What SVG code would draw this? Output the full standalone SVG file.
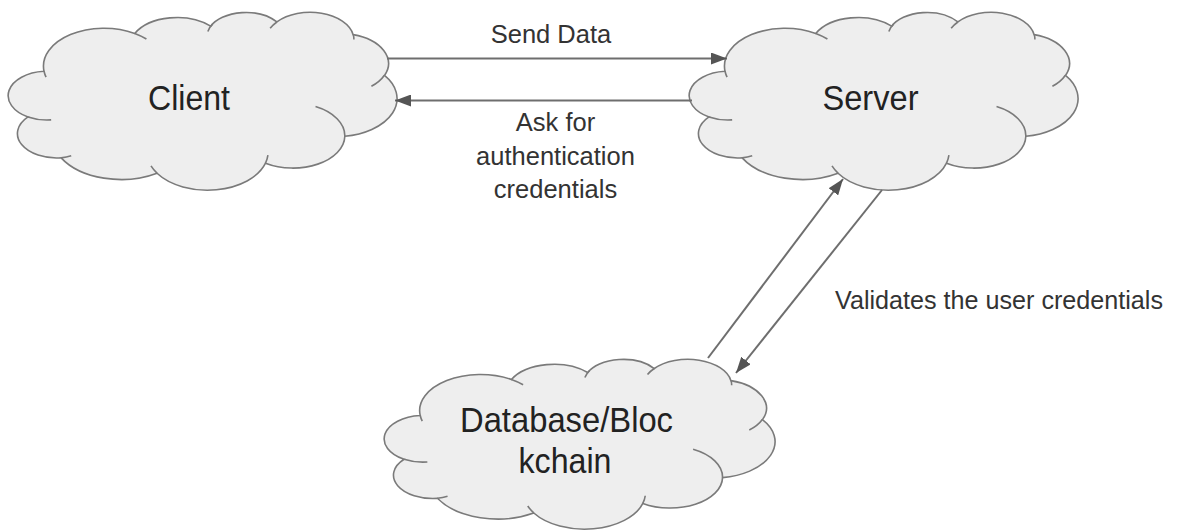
<svg xmlns="http://www.w3.org/2000/svg" xmlns:xlink="http://www.w3.org/1999/xlink" width="1178" height="531" viewBox="0 0 1178 531">
<style>
.cloud{fill:#eeeeee;stroke:#7a7a7a;stroke-width:1.6;vector-effect:non-scaling-stroke}
.tails{fill:none;stroke:#7a7a7a;stroke-width:1.6;vector-effect:non-scaling-stroke}
.big{font-family:"Liberation Sans",Arial,sans-serif;font-size:35px;fill:#222;text-anchor:middle}
.lbl{font-family:"Liberation Sans",Arial,sans-serif;font-size:25.5px;fill:#333}
.conn{stroke:#6e6e6e;stroke-width:2;fill:none}
</style>
<defs>
<path id="cloudShape" class="cloud" d="M3900 14370 A6753 9190 0 0 1 14003 5197 A5333 7267 0 0 1 22456 3432 A4365 5945 0 0 1 29826 2420 A4857 6595 0 0 1 38320 5500 A5333 7273 0 0 1 41808 15407 A6775 9220 0 0 1 37391 30145 A5785 7867 0 0 1 28558 36700 A6752 9215 0 0 1 16480 39140 A7720 10543 0 0 1 5807 35394 A4360 5918 0 0 1 2116 25472 A4345 5945 0 0 1 3900 14370 Z"/>
<path id="cloudTails" class="tails" d="M4693 26177 A4345 5945 0 0 1 2116 25472 M6928 34899 A4360 5918 0 0 1 5807 35394 M16478 39090 A6752 9215 0 0 1 15810 37349 M28827 34751 A6752 9215 0 0 1 28558 36700 M34129 22954 A5785 7867 0 0 1 37391 30145 M41798 15354 A5333 7273 0 0 1 40350 18030 M38324 5426 A4857 6595 0 0 1 38400 6690 M29078 3952 A4857 6595 0 0 1 29826 2420 M22141 4720 A4365 5945 0 0 1 22677 2894 M14000 5192 A6753 9190 0 0 1 15300 6540 M4127 15789 A6753 9190 0 0 1 3900 14370"/>
<marker id="arrow" markerUnits="userSpaceOnUse" markerWidth="16" markerHeight="12" viewBox="0 0 16 12" refX="16" refY="6" orient="auto">
<path d="M0 0 L16 6 L0 12 Z" fill="#555555"/>
</marker>
</defs>
<g id="client">
<g transform="translate(9,12) scale(0.0089815,0.0041204)">
<use href="#cloudShape"/>
<use href="#cloudTails"/>
</g>
<text class="big" x="189" y="110" textLength="82" lengthAdjust="spacingAndGlyphs">Client</text>
</g>
<g id="server">
<g transform="translate(690,12) scale(0.0089815,0.0041204)">
<use href="#cloudShape"/>
<use href="#cloudTails"/>
</g>
<text class="big" x="870.5" y="110" textLength="96" lengthAdjust="spacingAndGlyphs">Server</text>
</g>
<g id="database">
<g transform="translate(385,359) scale(0.0090278,0.0039352)">
<use href="#cloudShape"/>
<use href="#cloudTails"/>
</g>
<text class="big" x="566.5" y="432" textLength="213" lengthAdjust="spacingAndGlyphs">Database/Bloc</text>
<text class="big" x="565" y="473" textLength="93" lengthAdjust="spacingAndGlyphs">kchain</text>
</g>
<g id="connectors">
<line class="conn" x1="387" y1="58.5" x2="727" y2="58.5" marker-end="url(#arrow)"/>
<line class="conn" x1="692" y1="100.5" x2="395" y2="100.5" marker-end="url(#arrow)"/>
<line class="conn" x1="708" y1="358" x2="843" y2="179" marker-end="url(#arrow)"/>
<line class="conn" x1="882" y1="190" x2="736" y2="373" marker-end="url(#arrow)"/>
</g>
<g id="labels">
<text class="lbl" x="551" y="43" text-anchor="middle">Send Data</text>
<text class="lbl" x="555.5" y="131" text-anchor="middle">Ask for</text>
<text class="lbl" x="555.5" y="165" text-anchor="middle">authentication</text>
<text class="lbl" x="555.5" y="198" text-anchor="middle">credentials</text>
<text class="lbl" x="835" y="309" textLength="328" lengthAdjust="spacingAndGlyphs">Validates the user credentials</text>
</g>
</svg>
